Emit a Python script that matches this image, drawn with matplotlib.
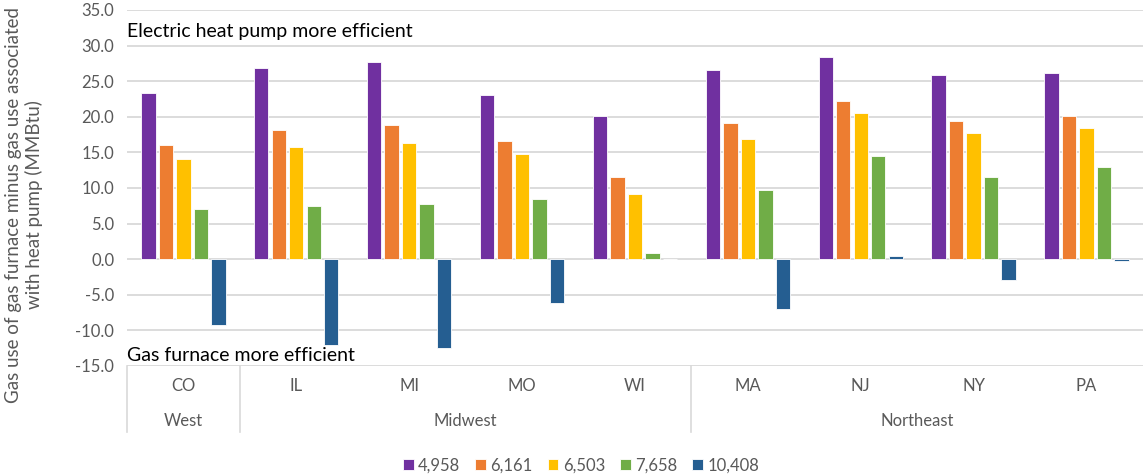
import matplotlib.pyplot as plt
import numpy as np

plt.rcParams['font.family'] = ['Lato', 'DejaVu Sans']

states = ['CO', 'IL', 'MI', 'MO', 'WI', 'MA', 'NJ', 'NY', 'PA']
regions = ['West', 'Midwest', 'Northeast']
region_sizes = [1, 4, 4]
series_names = ['4,958', '6,161', '6,503', '7,658', '10,408']
colors = ['#7030A0', '#ED7D31', '#FFC000', '#70AD47', '#255E91']

v_4958 = [23.3, 26.8, 27.7, 23.0, 20.1, 26.5, 28.4, 25.8, 26.1]
v_6161 = [16.1, 18.2, 18.8, 16.6, 11.5, 19.1, 22.2, 19.4, 20.1]
v_6503 = [14.0, 15.8, 16.3, 14.7, 9.1, 16.9, 20.5, 17.7, 18.4]
v_7658 = [7.1, 7.5, 7.7, 8.5, 0.8, 9.7, 14.5, 11.6, 12.9]
v_10408 = [-9.3, -12.1, -12.5, -6.1, 0.0, -7.0, 0.4, -2.9, -0.3]
series = [v_4958, v_6161, v_6503, v_7658, v_10408]

fig = plt.figure(figsize=(11.43, 4.74), dpi=100)
ax = fig.add_axes([0.111, 0.228, 0.889, 0.751])

x = np.arange(len(states)) + 0.5
step = 0.155
width = 0.128
for k, (vals, name, c) in enumerate(zip(series, series_names, colors)):
    ax.bar(x + (k - 2) * step, vals, width, color=c, label=name,
           edgecolor='white', linewidth=0.6, zorder=3)

ax.set_xlim(0, len(states))
ax.set_ylim(-15, 35)
ax.set_yticks(np.arange(-15, 36, 5))
ax.set_yticklabels([f'{t:.1f}' for t in np.arange(-15, 36, 5)])
ax.grid(axis='y', color='#D9D9D9', linewidth=1.3, zorder=0)
ax.set_xticks([])
for s in ax.spines.values():
    s.set_visible(False)
ax.tick_params(axis='y', length=0, labelsize=12, labelcolor='#595959', pad=9)

ax.set_ylabel('Gas use of gas furnace minus gas use associated\nwith heat pump (MMBtu)',
              fontsize=13.5, color='#595959', linespacing=1.15)
ax.yaxis.set_label_coords(-0.083, 0.452)

ax.text(0.0, 32.0, 'Electric heat pump more efficient', fontsize=14,
        color='black', va='center', ha='left')
ax.text(0.0, -13.6, 'Gas furnace more efficient', fontsize=14,
        color='black', va='center', ha='left')

# two-level category axis
tr = ax.get_xaxis_transform()
for xi in [0] + list(np.cumsum(region_sizes)[:-1]):
    ax.plot([xi, xi], [0, -0.185], transform=tr, color='#D9D9D9',
            linewidth=1.2, clip_on=False)
for xi, s in zip(x, states):
    ax.text(xi, -0.055, s, transform=tr, ha='center', va='center',
            fontsize=12, color='#595959')
start = 0
for r, n in zip(regions, region_sizes):
    ax.text(start + n / 2, -0.155, r, transform=tr, ha='center', va='center',
            fontsize=12, color='#595959')
    start += n

ax.legend(loc='center', bbox_to_anchor=(0.447, -0.28), ncol=5,
          frameon=False, fontsize=12, handlelength=0.65, handleheight=0.65,
          handletextpad=0.25, columnspacing=0.9, labelcolor='#595959')

fig.savefig('out.png', dpi=100)
